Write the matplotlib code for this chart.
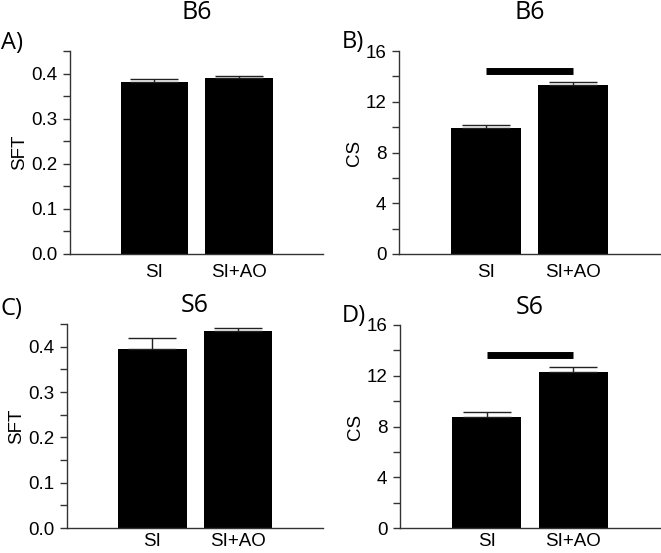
import numpy as np
import matplotlib.pyplot as plt
from matplotlib.ticker import MultipleLocator

groups = ['SI', 'SI+AO']

# SFT (spatial frequency threshold)
sft_b6 = [0.381, 0.390]
sft_b6_err = [0.008, 0.005]
sft_s6 = [0.395, 0.434]
sft_s6_err = [0.025, 0.007]

# CS (contrast sensitivity)
cs_b6 = [9.93, 13.30]
cs_b6_err = [0.27, 0.28]
cs_s6 = [8.75, 12.29]
cs_s6_err = [0.42, 0.40]

# significance bar heights
sig_b6 = 14.46
sig_s6 = 13.6

tick_font = 'Liberation Sans'
title_font = 'Open Sans'
spine_col = '#333333'

fig = plt.figure(figsize=(6.61, 5.53), dpi=100)
W, H = 661, 553

boxes = {
    'A': [0.106, 0.5407, 0.383, 0.367],
    'B': [0.6036, 0.5407, 0.395, 0.367],
    'C': [0.1014, 0.0452, 0.3876, 0.3689],
    'D': [0.605, 0.0452, 0.3935, 0.3671],
}
# title y (axes fraction), letter position (pixels), x label pad
title_y = {'A': 1.19, 'B': 1.19, 'C': 1.089, 'D': 1.084}
letter_px = {'A': (1, 43), 'B': (342, 42), 'C': (1, 309), 'D': (342, 316)}
xpad = {'A': 7.5, 'B': 7.5, 'C': 3.5, 'D': 3.5}

panels = [
    ('A', 'B6', 'SFT', sft_b6, sft_b6_err, None),
    ('B', 'B6', 'CS', cs_b6, cs_b6_err, sig_b6),
    ('C', 'S6', 'SFT', sft_s6, sft_s6_err, None),
    ('D', 'S6', 'CS', cs_s6, cs_s6_err, sig_s6),
]

x = np.array([1, 2])
for letter, title, ylab, vals, errs, sig in panels:
    ax = fig.add_axes(boxes[letter])
    ax.bar(x, vals, width=0.8, color='black', zorder=2)
    ax.errorbar(x, vals, yerr=[np.zeros(2), errs], fmt='none', ecolor='#222222',
                elinewidth=1.0, capsize=17.5, capthick=1.0, zorder=3)
    if sig is not None:
        ax.plot([1, 2], [sig, sig], color='black', lw=5, solid_capstyle='butt', zorder=3)
    ax.set_xlim(0, 3)
    if ylab == 'SFT':
        ax.set_ylim(0, 0.45)
        ax.yaxis.set_minor_locator(MultipleLocator(0.05))
        ax.set_yticks([0, 0.1, 0.2, 0.3, 0.4])
        ax.set_yticklabels(['0.0', '0.1', '0.2', '0.3', '0.4'])
    else:
        ax.set_ylim(0, 16)
        ax.set_yticks([0, 4, 8, 12, 16])
        ax.yaxis.set_minor_locator(MultipleLocator(2))
    ax.set_xticks(x)
    ax.set_xticklabels(groups, fontsize=13.5, family=tick_font)
    ax.tick_params(axis='x', length=0, pad=xpad[letter])
    ax.tick_params(axis='y', which='major', length=5, width=1, color=spine_col,
                   labelsize=13.5, direction='out', pad=4)
    ax.tick_params(axis='y', which='minor', length=5, width=1, color=spine_col, direction='out')
    for lab in ax.get_yticklabels():
        lab.set_family(tick_font)
    ax.set_ylabel(ylab, fontsize=13.5, family=tick_font, labelpad=2)
    ax.spines['top'].set_visible(False)
    ax.spines['right'].set_visible(False)
    for s in ['left', 'bottom']:
        ax.spines[s].set_color(spine_col)
        ax.spines[s].set_linewidth(1.0)
    ax.text(0.5, title_y[letter], title, transform=ax.transAxes,
            fontsize=18, family=title_font, ha='center', va='center')
    lx, ly = letter_px[letter]
    fig.text(lx / W, 1 - ly / H, letter + ')', fontsize=17, family=title_font,
             ha='left', va='center')

fig.savefig('out.png', dpi=100)
